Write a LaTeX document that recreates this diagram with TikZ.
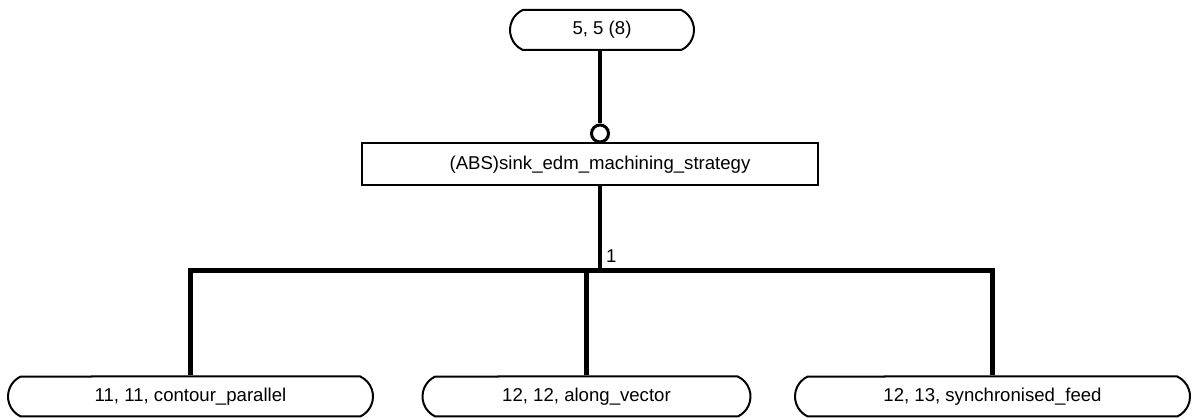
\documentclass[tikz,border=0pt]{standalone}
\usepackage{fontspec}
\setmainfont{Liberation Sans}
\usetikzlibrary{shapes.misc}
\begin{document}
\begin{tikzpicture}[x=1pt,y=-1pt,
  every node/.style={font=\fontsize{18.6}{20}\selectfont},
  entity/.style={draw,line width=2pt,rounded rectangle,rounded rectangle arc length=130,
    inner sep=0pt,minimum height=40pt},
  typebox/.style={draw,line width=2pt,rectangle,inner sep=0pt,minimum height=42pt},
  link/.style={line width=4.5pt},
  ring/.style={draw,line width=3pt,circle,inner sep=0pt,minimum size=17pt}]
\useasboundingbox (0,0) rectangle (1192,419);
% supertype and subtypes
\node[entity,minimum width=184pt] (top) at (602,30) {5, 5 (8)};
\node[typebox,minimum width=456pt] (abs) at (590,164.5) {};
\node (abslabel) at (600,164.5) {(ABS)sink\_edm\_machining\_strategy};
\node[entity,minimum width=365pt] (b1) at (190.5,396.5) {11, 11, contour\_parallel};
\node[entity,minimum width=328pt] (b2) at (586.5,396.5) {12, 12, along\_vector};
\node[entity,minimum width=395pt] (b3) at (992.5,396.5) {12, 13, synchronised\_feed};
% inheritance ring on the abstract box
\node[ring] (circ) at (600,133.5) {};
\coordinate (bar) at (600,270.5);
% connectors
\draw[link] (circ.north |- top.south) -- (circ.north);
\draw[link] (circ.north |- abs.south) -- (bar);
\draw[link,line join=miter] (b1.north) -- (b1.north |- bar) -- (b3.north |- bar) -- (b3.north);
\draw[link] (b2.north |- bar) -- (b2.north);
\node[anchor=south west,inner sep=0pt] (card) at (606,263) {1};
\end{tikzpicture}
\end{document}
